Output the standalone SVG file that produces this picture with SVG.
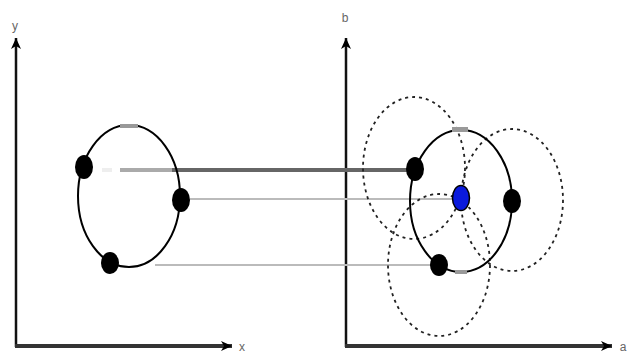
<svg xmlns="http://www.w3.org/2000/svg" width="631" height="356" viewBox="0 0 631 356">
<style>
.axis{stroke:#111;stroke-width:2.5;fill:none}
.axh{stroke:#333;stroke-width:4;fill:none}
.ell{stroke:#000;stroke-width:2;fill:none}
.dot{fill:#000}
.dash{stroke:#222;stroke-width:1.8;fill:none;stroke-dasharray:3 4}
.lbl{font-family:"Liberation Sans",Arial,sans-serif;font-size:12px;fill:#666}
.mark{fill:#999}
</style>
<defs>
<marker id="ah" markerWidth="12" markerHeight="12" refX="11" refY="6" orient="auto" markerUnits="userSpaceOnUse">
<path d="M0,1 L11,6 L0,11 L3,6 Z" fill="#000"/>
</marker>
</defs>
<rect width="631" height="356" fill="#fff"/>
<g id="axes-left">
<line class="axis" x1="16" y1="347" x2="16" y2="38" marker-end="url(#ah)"/>
<line class="axh" x1="15" y1="346" x2="232" y2="346" marker-end="url(#ah)"/>
<text class="lbl" x="15" y="30" text-anchor="middle">y</text>
<text class="lbl" x="242" y="351" text-anchor="middle">x</text>
</g>
<g id="axes-right">
<line class="axis" x1="346" y1="347" x2="346" y2="38" marker-end="url(#ah)"/>
<line class="axh" x1="345" y1="346" x2="612" y2="346" marker-end="url(#ah)"/>
<text class="lbl" x="345" y="22" text-anchor="middle">b</text>
<text class="lbl" x="623" y="351" text-anchor="middle">a</text>
</g>
<g id="connectors">
<line x1="102" y1="170" x2="112" y2="170" stroke="#eee" stroke-width="4"/>
<line x1="120" y1="170" x2="172" y2="170" stroke="#aaa" stroke-width="4"/>
<line x1="172" y1="170" x2="414" y2="170" stroke="#666" stroke-width="4"/>
<line x1="190" y1="199" x2="460" y2="199" stroke="#bbb" stroke-width="2"/>
<line x1="155" y1="265" x2="438" y2="265" stroke="#bbb" stroke-width="2"/>
</g>
<g id="dotted-circles">
<ellipse class="dash" cx="414" cy="168" rx="51" ry="71"/>
<ellipse class="dash" cx="512" cy="200" rx="51" ry="71"/>
<ellipse class="dash" cx="439" cy="265" rx="51" ry="71"/>
</g>
<g id="ellipse-left">
<ellipse class="ell" cx="129" cy="196" rx="51" ry="71"/>
<rect class="mark" x="120" y="124" width="18" height="4"/>
</g>
<g id="ellipse-right">
<ellipse class="ell" cx="461" cy="201" rx="51" ry="71"/>
<rect class="mark" x="452" y="127" width="16" height="5"/>
<rect class="mark" x="455" y="270" width="12" height="4"/>
</g>
<g id="point-left-1"><ellipse class="dot" cx="84" cy="167" rx="9" ry="12"/></g>
<g id="point-left-2"><ellipse class="dot" cx="181" cy="200" rx="9" ry="12"/></g>
<g id="point-left-3"><ellipse class="dot" cx="110" cy="263" rx="9" ry="11"/></g>
<g id="point-right-1"><ellipse class="dot" cx="415" cy="169" rx="9" ry="12"/></g>
<g id="point-right-2"><ellipse class="dot" cx="512" cy="201" rx="9" ry="12"/></g>
<g id="point-right-3"><ellipse class="dot" cx="439" cy="265" rx="9" ry="11"/></g>
<g id="point-center"><ellipse cx="461" cy="198" rx="8.5" ry="12.5" fill="#0a1adc" stroke="#000" stroke-width="1.5"/></g>
</svg>
